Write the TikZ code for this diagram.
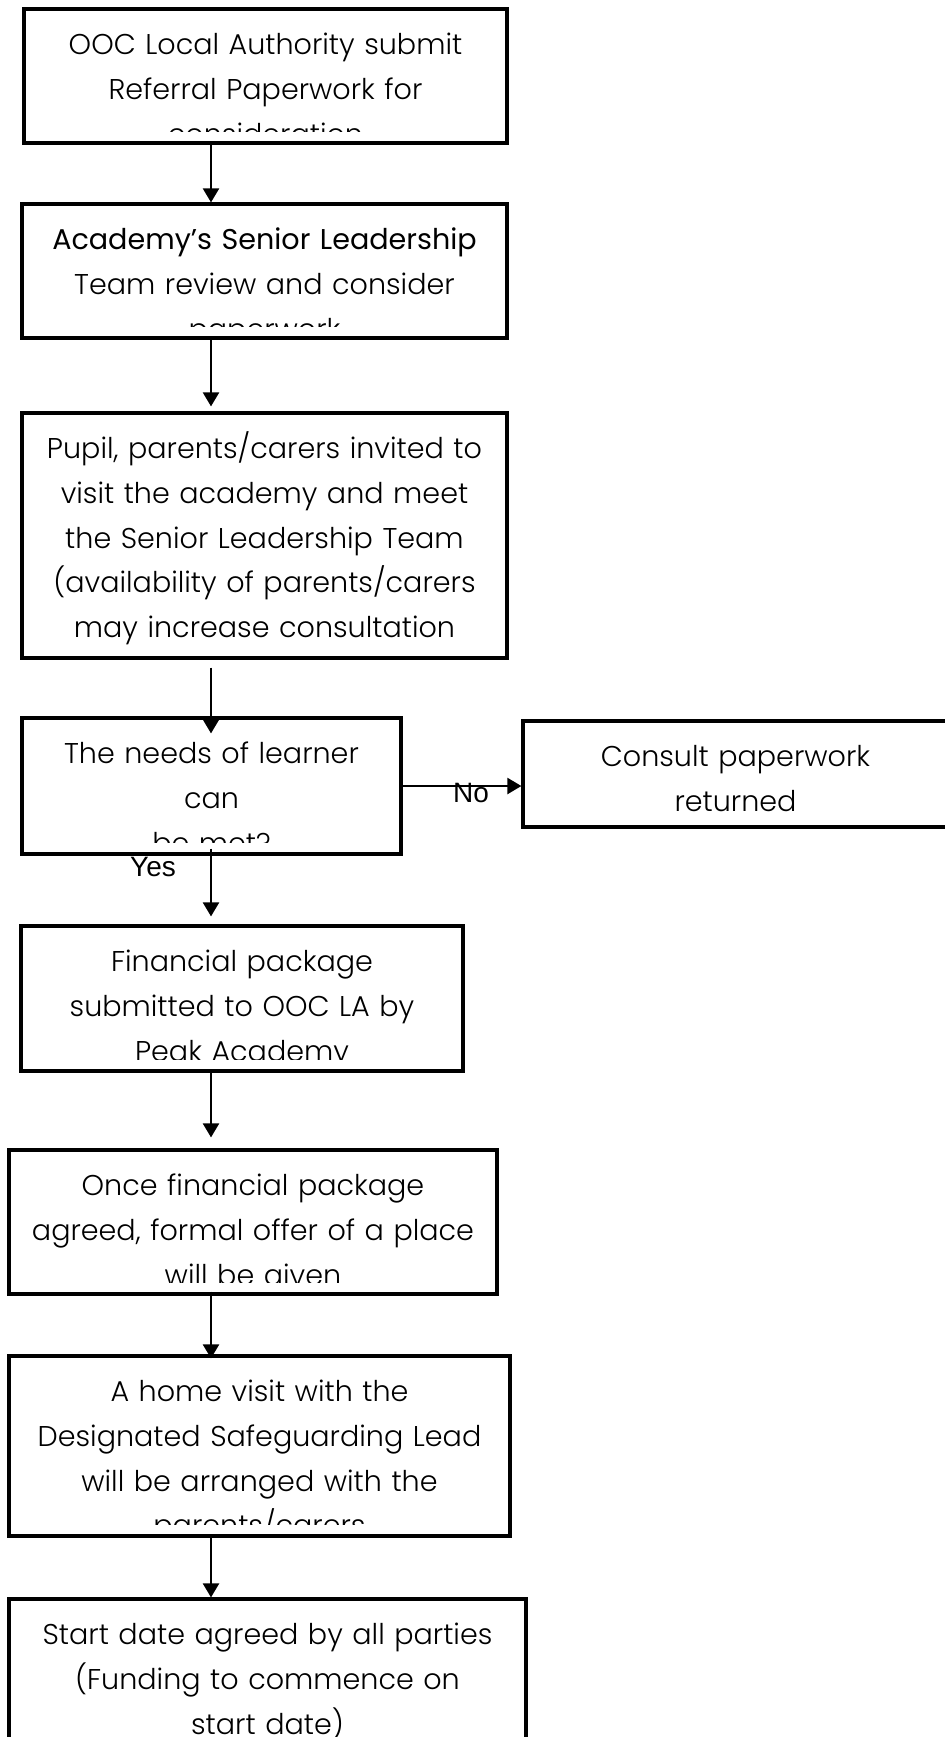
\documentclass[tikz,border=0pt]{standalone}
\usepackage{fontspec}
\setmainfont{Poppins}[UprightFont=* Light]
\newfontfamily\popreg{Poppins}
\newfontfamily\arialf{Liberation Sans}
\usetikzlibrary{arrows.meta,calc}
\tikzset{
  box/.style={draw=black, line width=1.6pt, fill=white, inner sep=0pt},
  txt/.style={anchor=north, inner sep=0pt, text width=290pt, align=center,
    font=\fontsize{14.3}{22.35}\selectfont, text=black},
  arr/.style={line width=1.1pt, -{Triangle[length=7pt,width=8pt]}},
  lbl/.style={inner sep=0pt, font=\arialf\fontsize{14}{16}\selectfont}
}
\newcommand{\boxtext}[2]{%
  \begin{scope}
    \clip (#1.north west) rectangle ([yshift=6.5pt]#1.south east);
    \node[txt, yshift=-7.86pt] (#1t) at (#1.north) {\strut #2};
  \end{scope}}
\begin{document}
\begin{tikzpicture}[x=0.5pt,y=-0.5pt]
\useasboundingbox (0,0) rectangle (944,1737);
\fill[white] (0,0) rectangle (944,1737);
\coordinate (col) at (211,0);
\node[box, minimum width=241.5pt, minimum height=67pt] (b1) at (265.5,76) {};
\node[box, minimum width=242.5pt, minimum height=67pt] (b2) at (264.5,271) {};
\node[box, minimum width=242.5pt, minimum height=122.5pt] (b3) at (264.5,535.5) {};
\node[box, minimum width=189.5pt, minimum height=68pt] (dec) at (211.5,786) {};
\node[box, minimum width=212.5pt, minimum height=53pt] (con) at (735.5,774) {};
\node[box, minimum width=221pt, minimum height=72.5pt] (fin) at (242,998.5) {};
\node[box, minimum width=244pt, minimum height=72pt] (once) at (253,1222) {};
\node[box, minimum width=250.5pt, minimum height=90pt] (home) at (259.5,1446) {};
\node[box, minimum width=258.5pt, minimum height=80.5pt] (start) at (267.5,1679.5) {};

\boxtext{b1}{OOC Local Authority submit\\Referral Paperwork for\\consideration}
\boxtext{b2}{{\popreg Academy’s Senior Leadership}\\Team review and consider\\paperwork}
\boxtext{b3}{Pupil, parents/carers invited to\\visit the academy and meet\\the Senior Leadership Team\\(availability of parents/carers\\may increase consultation}
\boxtext{dec}{The needs of learner\\can\\be met?}
\boxtext{con}{Consult paperwork\\returned}
\boxtext{fin}{Financial package\\submitted to OOC LA by\\Peak Academy}
\boxtext{once}{Once financial package\\agreed, formal offer of a place\\will be given}
\boxtext{home}{A home visit with the\\Designated Safeguarding Lead\\will be arranged with the\\parents/carers}
\boxtext{start}{Start date agreed by all parties\\(Funding to commence on\\start date)}

\draw[arr] (b1.south -| col) -- (b2.north -| col);
\draw[arr, shorten >=2.5pt] (b2.south -| col) -- (b3.north -| col);
\draw[arr, shorten <=4pt, shorten >=-8.5pt] (b3.south -| col) -- (dec.north -| col);
\draw[arr, shorten <=-3.5pt, shorten >=4pt] (dec.south -| col) -- (fin.north -| col);
\draw[arr, shorten >=5.5pt] (fin.south -| col) -- (once.north -| col);
\draw[arr, shorten <=-2pt, shorten >=-2pt] (once.south -| col) -- (home.north -| col);
\draw[arr] (home.south -| col) -- (start.north -| col);
\draw[arr] (dec.east) -- (dec.east -| con.west);

\node[lbl] (no) at (471,793) {No};
\node[lbl] (yes) at (153,867) {Yes};
\end{tikzpicture}
\end{document}
